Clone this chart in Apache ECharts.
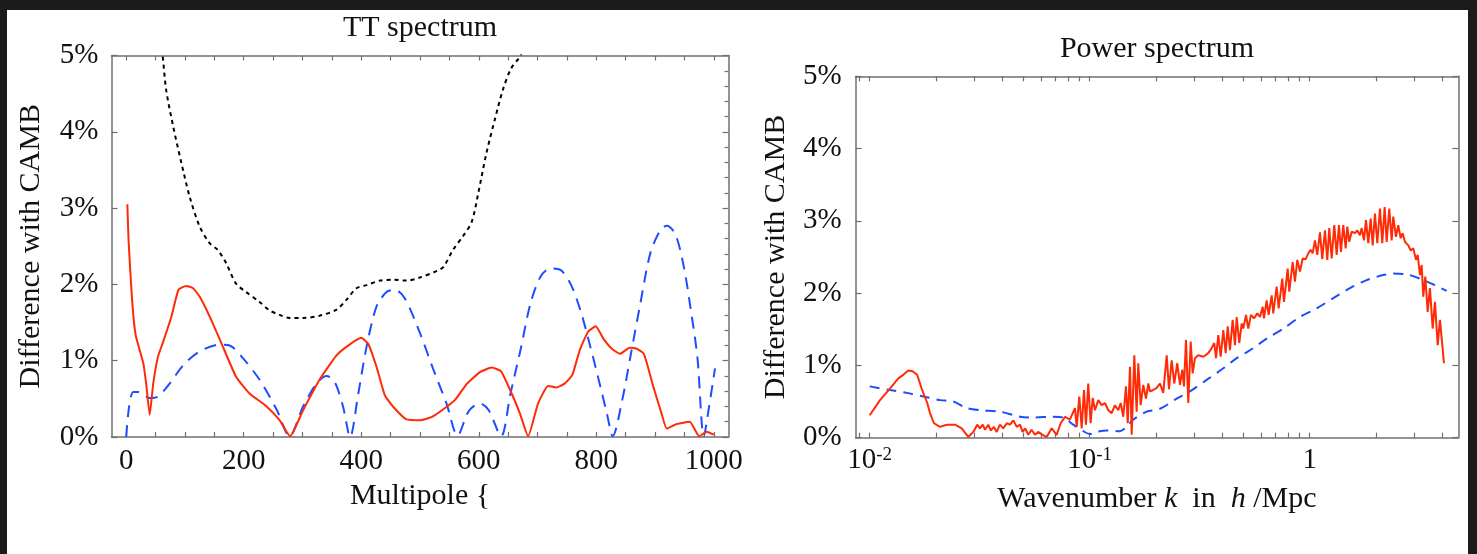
<!DOCTYPE html>
<html>
<head>
<meta charset="utf-8">
<title>TT spectrum / Power spectrum</title>
<script src="https://cdn.jsdelivr.net/npm/echarts@6/dist/echarts.min.js"></script>
<style>
  html, body { margin: 0; padding: 0; background: #1b1b1b; }
  #frame { position: absolute; left: 7px; top: 10px; width: 1461px; height: 544px; background: #ffffff; }
  #chart { position: absolute; left: 0; top: 0; width: 1477px; height: 554px; }
</style>
</head>
<body>
<div id="frame"></div>
<div id="chart"></div>
<script>
// ---- TT spectrum: difference with CAMB (%) vs multipole ----
const ttSolid = [
  [2,3.05],[4,2.58],[10,1.80],[16,1.34],[29,0.97],[34,0.70],[40,0.29],[46,0.70],[54,1.05],[63,1.25],
  [77,1.58],[89,1.93],[102,1.98],[114,1.95],[125,1.84],[142,1.58],[162,1.23],[187,0.79],[210,0.57],
  [239,0.40],[261,0.22],[279,0.01],[301,0.35],[329,0.75],[358,1.07],[380,1.21],[400,1.30],[412,1.22],
  [426,0.92],[440,0.55],[454,0.40],[477,0.23],[500,0.22],[522,0.27],[559,0.48],[579,0.69],[602,0.85],
  [622,0.91],[638,0.86],[656,0.57],[670,0.31],[684,0.01],[701,0.44],[718,0.67],[732,0.65],[746,0.70],
  [759,0.81],[772,1.14],[786,1.38],[799,1.45],[812,1.29],[826,1.16],[840,1.09],[857,1.17],[868,1.16],
  [881,1.09],[897,0.66],[911,0.31],[920,0.11],[937,0.17],[959,0.20],[975,0.01],[988,0.07],[1000,0.03]
];
const ttDashed = [
  [0,0.00],[5,0.40],[12,0.59],[20,0.59],[30,0.55],[40,0.51],[54,0.53],[74,0.70],[97,0.94],[125,1.12],
  [159,1.21],[176,1.20],[199,1.03],[227,0.75],[256,0.36],[278,0.01],[301,0.40],[324,0.70],[341,0.80],
  [355,0.72],[369,0.40],[381,0.00],[395,0.57],[409,1.18],[426,1.71],[443,1.90],[457,1.93],[474,1.82],
  [500,1.36],[522,0.90],[545,0.44],[564,0.02],[583,0.34],[602,0.44],[617,0.35],[638,0.01],[654,0.57],
  [671,1.14],[688,1.75],[705,2.10],[722,2.21],[739,2.19],[756,2.01],[773,1.66],[790,1.18],[807,0.66],
  [818,0.31],[828,0.01],[844,0.48],[858,1.05],[875,1.75],[892,2.41],[909,2.71],[920,2.77],[935,2.65],
  [949,2.23],[960,1.71],[972,1.05],[983,0.01],[992,0.40],[1002,0.90]
];
const ttDotted = [
  [55,5.40],[62,5.00],[68,4.55],[80,4.07],[94,3.59],[108,3.15],[125,2.76],[142,2.54],[156,2.45],
  [170,2.28],[187,2.01],[204,1.90],[227,1.77],[244,1.66],[261,1.60],[278,1.56],[301,1.56],[329,1.59],
  [358,1.67],[375,1.80],[392,1.95],[409,1.99],[432,2.05],[454,2.06],[477,2.05],[500,2.09],[530,2.18],
  [540,2.23],[556,2.45],[573,2.63],[588,2.82],[599,3.19],[613,3.72],[627,4.15],[641,4.55],[655,4.83],
  [671,5.00],[685,5.30]
];
const ttTickValues = [0,50,100,150,200,250,300,350,400,450,500,550,600,650,700,750,800,850,900,950,1000];
const ttLabelValues = [0,200,400,600,800,1000];

// ---- Matter power spectrum: difference with CAMB (%) vs k [h/Mpc] ----
const pkSolid = [
  [0.0100,0.31],[0.01114,0.52],[0.01236,0.68],[0.01349,0.82],[0.01422,0.87],[0.01497,0.93],[0.01567,0.92],
  [0.01644,0.87],[0.01722,0.68],[0.01827,0.48],[0.01880,0.34],[0.01960,0.20],[0.02089,0.15],[0.02239,0.18],
  [0.02443,0.18],[0.02620,0.13],[0.02807,0.01],[0.02958,0.08],[0.03084,0.18],[0.03170,0.13],[0.03264,0.18],
  [0.03343,0.11],[0.03460,0.18],[0.03548,0.10],[0.03673,0.15],[0.03777,0.08],[0.03909,0.18],[0.04046,0.13],
  [0.04198,0.20],[0.04345,0.18],[0.04498,0.24],[0.04660,0.15],[0.04822,0.18],[0.04955,0.08],[0.05093,0.13],
  [0.05260,0.04],[0.05445,0.11],[0.05636,0.04],[0.05834,0.08],[0.06109,0.04],[0.06377,0.01],[0.06719,0.13],
  [0.07079,0.04],[0.07379,0.20],[0.07727,0.29],[0.08128,0.25],
  [0.0857,0.41],[0.0873,0.15],[0.0897,0.57],[0.0920,0.13],[0.0942,0.66],[0.0962,0.18],[0.0985,0.75],
  [0.1010,0.20],[0.1032,0.55],[0.1057,0.38],[0.1094,0.52],[0.1134,0.45],[0.1173,0.48],[0.1215,0.38],
  [0.1259,0.34],[0.1303,0.45],[0.1349,0.38],[0.1383,0.48],[0.1421,0.29],[0.1462,0.71],[0.1489,0.20],
  [0.1525,0.98],[0.1552,0.04],[0.1595,1.14],[0.1635,0.36],[0.1663,1.03],[0.1705,0.45],[0.1752,0.73],
  [0.1803,0.54],[0.1847,0.75],[0.1880,0.64],[0.1945,0.66],[0.2016,0.69],[0.2087,0.75],[0.2160,0.62],
  [0.2239,1.14],[0.2293,0.67],[0.2359,1.07],[0.2424,0.75],[0.2501,1.03],[0.2573,0.73],[0.2636,0.94],
  [0.2683,0.71],[0.2740,1.35],[0.2807,0.48],[0.2878,1.33],[0.2939,0.89],[0.3010,1.10],[0.3116,1.14],
  [0.3284,1.12],[0.3460,1.17],[0.3585,1.24],[0.3685,1.31],[0.3751,1.10],[0.3842,1.42],[0.3940,1.12],
  [0.4049,1.49],[0.4151,1.17],[0.4239,1.54],[0.4342,1.21],[0.4467,1.63],[0.4576,1.28],[0.4658,1.67],
  [0.4786,1.31],[0.4909,1.58],[0.4992,1.51],[0.5135,1.70],[0.5259,1.51],[0.5410,1.70],[0.5580,1.65],
  [0.5777,1.72],[0.5943,1.67],[0.6114,1.81],[0.6198,1.65],[0.6374,1.90],[0.6509,1.70],[0.6718,1.97],
  [0.6831,1.72],[0.7079,2.09],[0.7229,1.79],[0.7507,2.20],[0.7641,1.88],[0.7943,2.34],[0.8078,2.02],
  [0.8369,2.43],[0.8574,2.16],[0.8782,2.46],[0.9035,2.30],[0.9294,2.48],[0.9590,2.47],[0.9854,2.55],
  [1.0104,2.60],[1.0318,2.55],[1.0570,2.73],[1.0826,2.53],[1.1138,2.84],[1.1410,2.47],[1.1734,2.87],
  [1.2023,2.46],[1.2277,2.90],[1.2589,2.48],[1.2936,2.94],[1.3265,2.53],[1.3589,2.94],[1.3877,2.57],
  [1.4213,2.94],[1.4575,2.62],[1.4822,2.92],[1.5136,2.71],[1.5521,2.85],[1.6065,2.83],[1.6458,2.87],
  [1.6927,2.80],[1.7234,2.90],[1.7653,2.73],[1.8026,3.01],[1.8467,2.69],[1.8936,3.03],[1.9337,2.66],
  [1.9806,3.10],[2.0291,2.69],[2.0870,3.17],[2.1380,2.69],[2.1923,3.19],[2.2387,2.71],[2.3004,3.17],
  [2.3590,2.73],[2.3988,3.06],[2.4677,2.78],[2.5275,2.94],[2.5917,2.76],[2.6467,2.83],[2.7115,2.71],
  [2.8067,2.66],[2.8780,2.59],[2.9573,2.62],[3.0423,2.46],[3.0968,2.53],[3.1724,2.25],[3.2291,2.39],
  [3.2839,1.95],[3.3533,2.23],[3.4384,1.74],[3.5217,2.07],[3.6228,1.51],[3.7108,1.88],[3.8173,1.28],
  [3.9107,1.63],[4.0786,1.03]
];
const pkDashed = [
  [0.0100,0.71],[0.01236,0.66],[0.01473,0.62],[0.01816,0.56],[0.02089,0.52],[0.02399,0.50],[0.02760,0.41],
  [0.03170,0.38],[0.03909,0.36],[0.04822,0.29],[0.05541,0.28],[0.06832,0.29],[0.07586,0.28],[0.08421,0.18],
  [0.09353,0.09],[0.1003,0.05],[0.1076,0.08],[0.1195,0.10],[0.1373,0.09],[0.1473,0.15],[0.1578,0.25],
  [0.1816,0.36],[0.2087,0.40],[0.2486,0.54],[0.2857,0.64],[0.3402,0.80],[0.4049,0.96],[0.4658,1.10],
  [0.5353,1.21],[0.6374,1.37],[0.7586,1.51],[0.9035,1.67],[1.076,1.79],[1.280,1.93],[1.525,2.07],
  [1.816,2.18],[2.161,2.25],[2.399,2.27],[2.760,2.26],[3.172,2.20],[3.646,2.12],[4.195,2.03]
];
const pkTickValues = [0.009,0.01,0.02,0.03,0.04,0.05,0.06,0.07,0.08,0.09,0.1,0.2,0.3,0.4,0.5,0.6,0.7,0.8,0.9,1,2,3,4];
const pkLabelValues = [0.01,0.1,1];

const percentTicks = [0,1,2,3,4,5];

const RED = '#ff2a06';
const BLUE = '#1f4cff';
const AXIS = '#707070';
const INK = '#111111';
const SERIF = '"Liberation Serif", "DejaVu Serif", serif';

const labelStyle = { color: INK, fontFamily: SERIF, fontSize: 29 };
const nameStyle = { color: INK, fontFamily: SERIF, fontSize: 30 };
const frameLine = { show: true, onZero: false, lineStyle: { color: AXIS, width: 1.5 } };
const tickStyle = { color: AXIS, width: 1.2 };

function plainNumber(v) {
  return String(v);
}
function superscriptLabel(v) {
  const e = Math.round(Math.log10(v));
  return e === 0 ? '1' : '10{sup|' + e + '}';
}

const chart = echarts.init(document.getElementById('chart'), null, { renderer: 'canvas' });

chart.setOption({
  animation: false,
  backgroundColor: 'transparent',
  graphic: [
    { type: 'text', x: 420, y: 28, style: { text: 'TT spectrum', font: '30px ' + SERIF, fill: INK, align: 'center', verticalAlign: 'middle' } },
    { type: 'text', x: 1157, y: 49, style: { text: 'Power spectrum', font: '30px ' + SERIF, fill: INK, align: 'center', verticalAlign: 'middle' } }
  ],
  grid: [
    { left: 111.5, top: 55.5, width: 617, height: 381.5, containLabel: false },
    { left: 855.6, top: 76.3, width: 602.7, height: 361.4, containLabel: false }
  ],
  xAxis: [
    {
      gridIndex: 0, type: 'value', position: 'bottom', min: -25, max: 1025,
      axisLine: frameLine, splitLine: { show: false },
      axisTick: { show: true, inside: true, length: 5, lineStyle: tickStyle, customValues: ttTickValues },
      axisLabel: { ...labelStyle, margin: 10, customValues: ttLabelValues, formatter: plainNumber },
      name: 'Multipole {', nameLocation: 'middle', nameGap: 44, nameTextStyle: nameStyle
    },
    {
      gridIndex: 0, type: 'value', position: 'top', min: -25, max: 1025,
      axisLine: frameLine, splitLine: { show: false },
      axisTick: { show: true, inside: true, length: 5, lineStyle: tickStyle, customValues: ttTickValues },
      axisLabel: { show: false }
    },
    {
      gridIndex: 1, type: 'log', logBase: 10, position: 'bottom', min: 0.008629, max: 4.738,
      axisLine: frameLine, splitLine: { show: false },
      axisTick: { show: true, inside: true, length: 5, lineStyle: tickStyle, customValues: pkTickValues },
      axisLabel: {
        ...labelStyle, margin: 8, customValues: pkLabelValues, formatter: superscriptLabel,
        rich: { sup: { fontFamily: SERIF, fontSize: 19, color: INK, verticalAlign: 'top', padding: [0, 0, 8, 0] } }
      },
      name: 'Wavenumber {i|k}  in  {i|h} /Mpc', nameLocation: 'middle', nameGap: 46,
      nameTextStyle: { ...nameStyle, rich: { i: { fontFamily: SERIF, fontSize: 30, fontStyle: 'italic', color: INK } } }
    },
    {
      gridIndex: 1, type: 'log', logBase: 10, position: 'top', min: 0.008629, max: 4.738,
      axisLine: frameLine, splitLine: { show: false },
      axisTick: { show: true, inside: true, length: 5, lineStyle: tickStyle, customValues: pkTickValues },
      axisLabel: { show: false }
    }
  ],
  yAxis: [
    {
      gridIndex: 0, type: 'value', position: 'left', min: 0, max: 5, interval: 1,
      axisLine: frameLine, splitLine: { show: false },
      axisTick: { show: true, inside: true, length: 6, lineStyle: tickStyle, customValues: percentTicks },
      axisLabel: { ...labelStyle, margin: 13, formatter: '{value}%' },
      name: 'Difference with CAMB', nameLocation: 'middle', nameGap: 65, nameTextStyle: nameStyle
    },
    {
      gridIndex: 0, type: 'value', position: 'right', min: 0, max: 5, interval: 1,
      axisLine: frameLine, splitLine: { show: false },
      axisTick: { show: true, inside: true, length: 6, lineStyle: tickStyle },
      minorTick: { show: true, splitNumber: 5, length: 4, lineStyle: tickStyle },
      axisLabel: { show: false }
    },
    {
      gridIndex: 1, type: 'value', position: 'left', min: 0, max: 5, interval: 1,
      axisLine: frameLine, splitLine: { show: false },
      axisTick: { show: true, inside: true, length: 6, lineStyle: tickStyle },
      axisLabel: { ...labelStyle, margin: 14, formatter: '{value}%' },
      name: 'Difference with CAMB', nameLocation: 'middle', nameGap: 64, nameTextStyle: nameStyle
    },
    {
      gridIndex: 1, type: 'value', position: 'right', min: 0, max: 5, interval: 1,
      axisLine: frameLine, splitLine: { show: false },
      axisTick: { show: true, inside: true, length: 6, lineStyle: tickStyle },
      axisLabel: { show: false }
    }
  ],
  series: [
    {
      type: 'line', xAxisIndex: 0, yAxisIndex: 0, data: ttDotted, symbol: 'none', smooth: 0.3, clip: true,
      lineStyle: { color: '#000000', width: 2, type: [4, 4] }
    },
    {
      type: 'line', xAxisIndex: 0, yAxisIndex: 0, data: ttDashed, symbol: 'none', smooth: 0.3, clip: true,
      lineStyle: { color: BLUE, width: 2, type: [12, 8] }
    },
    {
      type: 'line', xAxisIndex: 0, yAxisIndex: 0, data: ttSolid, symbol: 'none', smooth: 0.15, clip: true,
      lineStyle: { color: RED, width: 2 }
    },
    {
      type: 'line', xAxisIndex: 2, yAxisIndex: 2, data: pkDashed, symbol: 'none', smooth: 0.3, clip: true,
      lineStyle: { color: BLUE, width: 2, type: [10, 7] }
    },
    {
      type: 'line', xAxisIndex: 2, yAxisIndex: 2, data: pkSolid, symbol: 'none', smooth: false, clip: true,
      lineStyle: { color: RED, width: 2 }
    }
  ]
});
</script>
</body>
</html>
